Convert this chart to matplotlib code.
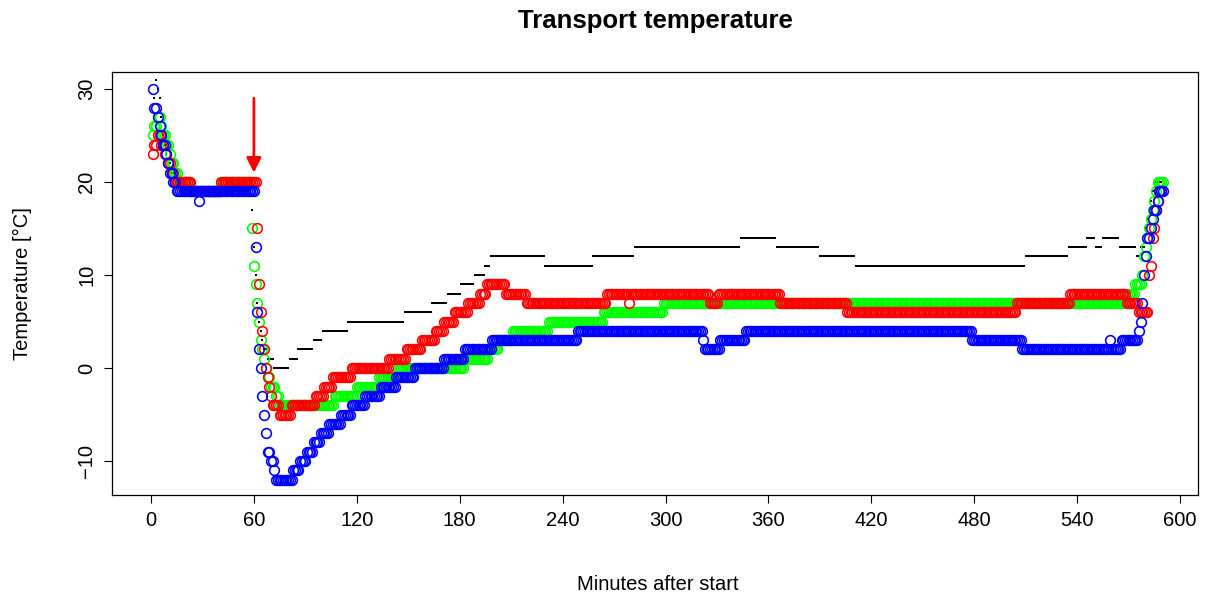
import numpy as np
import matplotlib
matplotlib.use("Agg")
import matplotlib.pyplot as plt

plt.rcParams['font.family'] = ['Liberation Sans', 'DejaVu Sans']

# ---- data: step segments (start minute, value) ----
black_start = [2, 3, 4, 5, 6, 7, 8, 9, 10, 12, 15, 17, 59, 60, 61, 62, 63, 64, 65, 66, 68, 72, 81, 86,
               95, 100, 115, 148, 164, 173, 181, 189, 195, 198, 230, 258, 282, 344, 365, 390, 411, 510,
               535, 546, 551, 555, 565, 575, 577, 580, 581, 582, 583, 584, 586]
black_value = [29, 31, 30, 29, 27, 25, 24, 23, 22, 21, 20, 19, 17, 13, 10, 7, 5, 4, 3, 2, 1, 0, 1, 2,
               3, 4, 5, 6, 7, 8, 9, 10, 11, 12, 11, 12, 13, 14, 13, 12, 11, 12,
               13, 14, 13, 14, 13, 12, 13, 15, 16, 17, 18, 19, 20]
black_end = 589

red_start = [1, 2, 4, 6, 8, 10, 12, 14, 24, 41, 62, 63, 64, 65, 66, 67, 68, 69, 70, 71, 75, 82, 96, 101,
             106, 117, 139, 149, 158, 166, 171, 177, 185, 192, 196, 207, 219, 266, 279, 280, 326, 331,
             367, 406, 505, 536, 569, 576, 582, 583, 584, 585, 586, 587, 588]
red_value = [23, 24, 25, 24, 23, 22, 21, 20, 19, 20, 15, 9, 6, 4, 2, 0, -1, -2, -3, -4, -5, -4, -3, -2,
             -1, 0, 1, 2, 3, 4, 5, 6, 7, 8, 9, 8, 7, 8, 7, 8, 7, 8,
             7, 6, 7, 8, 7, 6, 10, 11, 14, 15, 17, 18, 19]
red_end = 589

green_start = [1, 2, 4, 6, 7, 9, 11, 12, 14, 16, 23, 41, 59, 60, 61, 62, 63, 64, 65, 66, 67, 68, 70, 73,
               75, 107, 120, 133, 144, 183, 197, 203, 211, 232, 264, 299, 569, 574, 578, 579, 580, 581,
               582, 583, 584, 585, 586, 587]
green_value = [25, 26, 27, 26, 25, 24, 23, 22, 21, 20, 19, 20, 15, 11, 9, 7, 5, 3, 2, 1, 0, -1, -2, -3,
               -4, -3, -2, -1, 0, 1, 2, 3, 4, 5, 6, 7, 8, 9, 10, 12, 13, 14,
               15, 16, 17, 18, 19, 20]
green_end = 590

blue_start = [1, 2, 4, 5, 6, 7, 9, 10, 11, 13, 15, 28, 29, 61, 62, 63, 64, 65, 66, 67, 68, 70, 72, 73,
              83, 87, 91, 95, 99, 104, 111, 117, 125, 134, 143, 154, 171, 183, 199, 249, 322, 323, 332,
              347, 479, 508, 559, 560, 566, 576, 577, 578, 579, 580, 581, 583, 584, 585, 587, 588]
blue_value = [30, 28, 27, 26, 25, 24, 23, 22, 21, 20, 19, 18, 19, 13, 6, 2, 0, -3, -5, -7, -9, -10, -11, -12,
              -11, -10, -9, -8, -7, -6, -5, -4, -3, -2, -1, 0, 1, 2, 3, 4, 3, 2, 3,
              4, 3, 2, 3, 2, 3, 4, 5, 7, 10, 12, 14, 15, 16, 17, 18, 19]
blue_end = 590

x_ticks = [0, 60, 120, 180, 240, 300, 360, 420, 480, 540, 600]
y_ticks = [-10, 0, 10, 20, 30]


def expand(starts, values, end):
    bounds = list(starts) + [end + 1]
    mins, vals = [], []
    for i, v in enumerate(values):
        for m in range(bounds[i], bounds[i + 1]):
            mins.append(m)
            vals.append(v)
    return np.array(mins), np.array(vals)


W, H = 1205, 597
fig = plt.figure(figsize=(W / 100, H / 100), dpi=100)
L, R, T, B = 112, 1198, 72, 495
ax = fig.add_axes([L / W, 1 - B / H, (R - L) / W, (B - T) / H])

# black readings drawn first (underneath the circles)
kx, ky = expand(black_start, black_value, black_end)
ax.plot(kx, ky, linestyle='none', marker='s', markersize=1.9, color='black', markeredgewidth=0)

circ = dict(linestyle='none', marker='o', markersize=7.0, markerfacecolor='none', markeredgewidth=1.15)
gx, gy = expand(green_start, green_value, green_end)
ax.plot(gx, gy, markeredgecolor='#00FF00', **circ)
rx, ry = expand(red_start, red_value, red_end)
ax.plot(rx, ry, markeredgecolor='#FF0000', **circ)
bx, by = expand(blue_start, blue_value, blue_end)
ax.plot(bx, by, markeredgecolor='#0000FF', **circ)

ax.annotate('', xy=(60, 21), xytext=(60, 29),
            arrowprops=dict(arrowstyle='-|>', color='#FF0000', lw=2, mutation_scale=22,
                            shrinkA=0, shrinkB=0))

ax.set_xlim((L - 151) / 1.715, (R - 151) / 1.715)
ax.set_ylim((368 - B) / 9.3, (368 - T) / 9.3)
ax.set_xticks(x_ticks)
ax.set_yticks(y_ticks)
ax.tick_params(axis='both', length=5.5, width=0.8, labelsize=14.5, pad=6)
for lab in ax.get_yticklabels():
    lab.set_rotation(90)
    lab.set_va('center')
for s in ax.spines.values():
    s.set_linewidth(0.9)

fig.text(655 / W, 1 - 21 / H, 'Transport temperature', ha='center', va='center',
         fontsize=18.5, fontweight='bold')
fig.text(658 / W, 1 - 585 / H, 'Minutes after start', ha='center', va='center', fontsize=14.5)
fig.text(22 / W, 1 - 284 / H, 'Temperature [°C]', ha='center', va='center', rotation=90, fontsize=14.5)

fig.savefig('out.png', dpi=100)
